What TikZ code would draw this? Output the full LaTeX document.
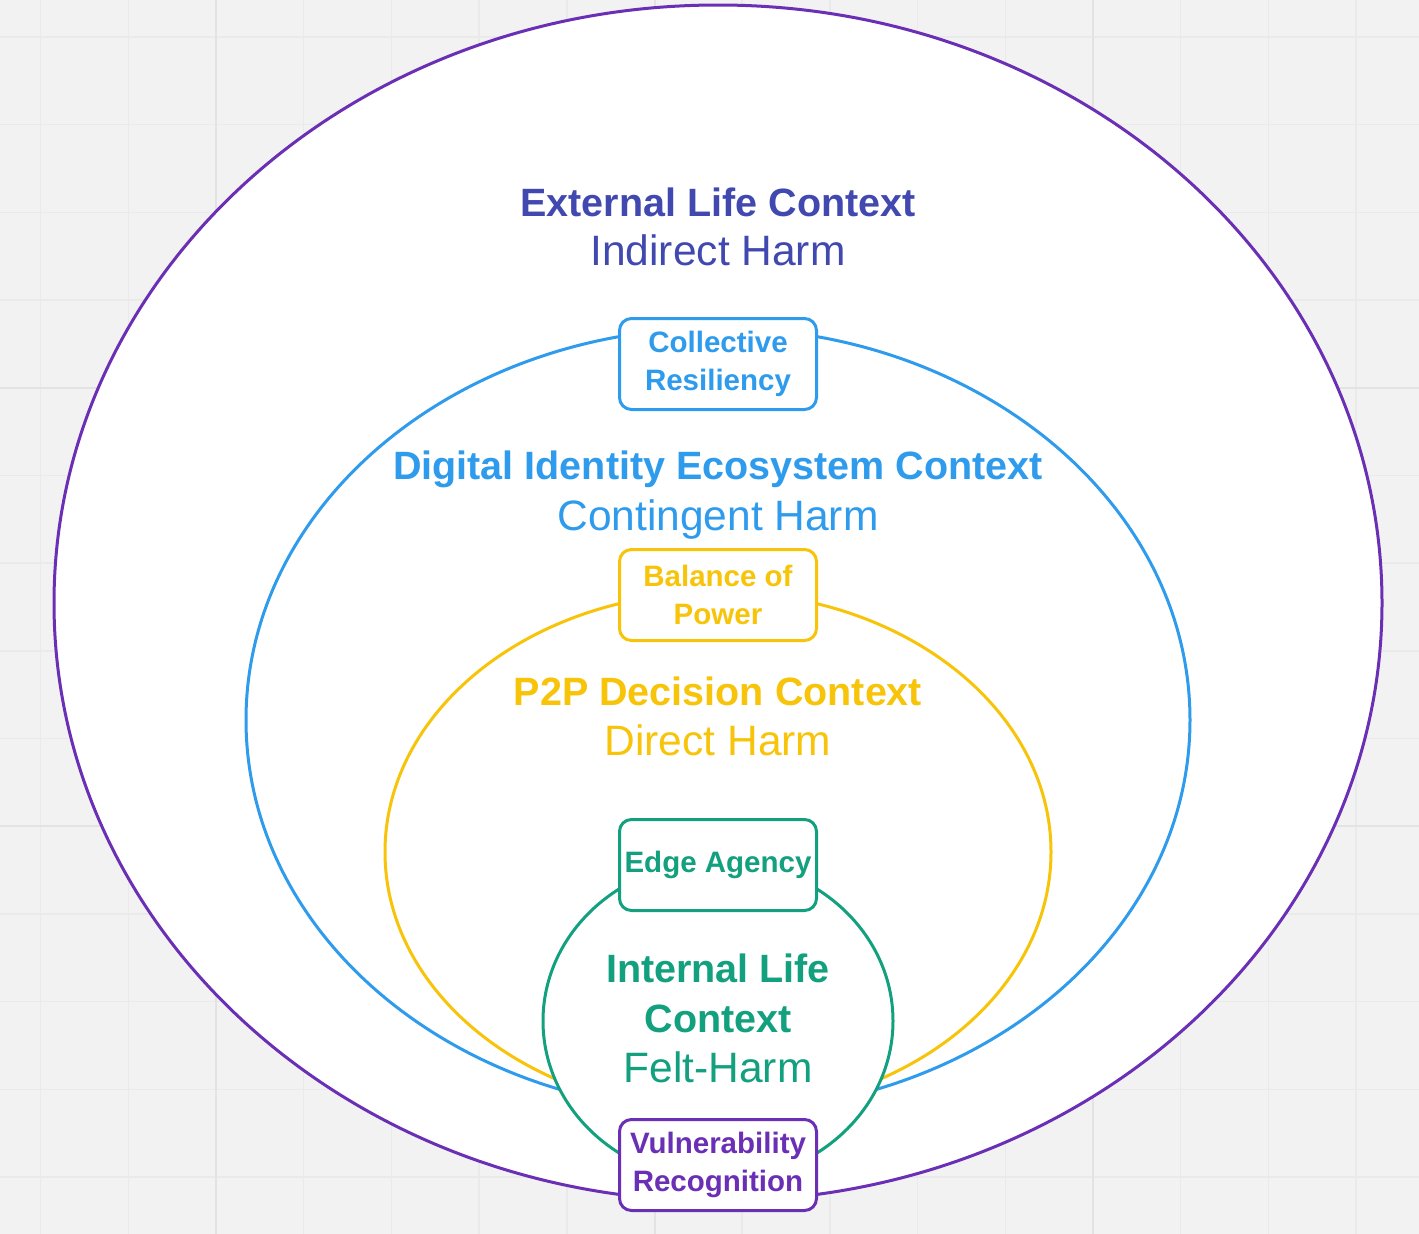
\documentclass[tikz,border=0pt]{standalone}
\usepackage{fontspec}
\setmainfont{Liberation Sans}
\usetikzlibrary{shapes.geometric,positioning}
\definecolor{extpurple}{HTML}{6A2FB4}
\definecolor{extindigo}{HTML}{4148B0}
\definecolor{ecoblue}{HTML}{2F9BEC}
\definecolor{ptpyellow}{HTML}{F7C40A}
\definecolor{intgreen}{HTML}{12A07E}
\definecolor{canvas}{HTML}{F2F2F2}
\definecolor{gridminor}{HTML}{EAEAEA}
\definecolor{gridmajor}{HTML}{E3E3E3}
\tikzset{
  ring/.style={ellipse, draw, line width=3pt, fill=white, inner sep=0pt},
  ctxname/.style={font=\fontsize{39.5}{50}\selectfont\bfseries, anchor=base,
                  align=center},
  harmname/.style={font=\fontsize{42.5}{50}\selectfont, anchor=base},
  tagbox/.style={rectangle, rounded corners=12pt, draw, line width=3pt,
                 fill=white, align=center, inner sep=0pt,
                 minimum width=197pt, minimum height=91pt,
                 font=\fontsize{29.5}{38}\selectfont\bfseries}
}

\begin{document}
\begin{tikzpicture}[x=1pt, y=-1pt]
  \useasboundingbox (0,0) rectangle (1419,1234);
  % canvas grid
  \fill[canvas] (0,0) rectangle (1419,1234);
  \foreach \i in {0,...,15} {
    \draw[gridminor, line width=1.5pt] ({40.6+87.7*\i},0) -- ({40.6+87.7*\i},1234);
    \draw[gridminor, line width=1.5pt] (0,{37+87.7*\i}) -- (1419,{37+87.7*\i});
  }
  \foreach \gx in {216,654.5,1093} \draw[gridmajor, line width=2pt] (\gx,0) -- (\gx,1234);
  \foreach \gy in {387.8,826} \draw[gridmajor, line width=2pt] (0,\gy) -- (1419,\gy);

  % context rings
  \node[ring, draw=extpurple, minimum width=1328pt, minimum height=1196pt] (ext) at (718,603) {};
  \node[ring, draw=ecoblue, minimum width=944pt, minimum height=784pt] (eco) at (718,720) {};
  \node[ring, draw=ptpyellow, minimum width=666pt, minimum height=520pt] (ptp) at (718,852) {};
  \node[ring, draw=intgreen, minimum width=350pt, minimum height=320pt] (int) at (718,1021) {};

  % context labels
  \node[ctxname, text=extindigo] (extname) at (718,216) {External Life Context};
  \node[harmname, text=extindigo] (extharm) at (718,265) {Indirect Harm};
  \node[ctxname, text=ecoblue] (econame) at (718,479) {Digital Identity Ecosystem Context};
  \node[harmname, text=ecoblue] (ecoharm) at (718,530) {Contingent Harm};
  \node[ctxname, text=ptpyellow] (ptpname) at (718,705) {P2P Decision Context};
  \node[harmname, text=ptpyellow] (ptpharm) at (718,755) {Direct Harm};
  \node[ctxname, text=intgreen] (intname) at (718,1032) {Internal Life\\Context};
  \node[harmname, text=intgreen] (intharm) at (718,1082) {Felt-Harm};

  % boundary tags
  \node[tagbox, draw=ecoblue, text=ecoblue] (resil) at (718,364) {Collective\\Resiliency};
  \node[tagbox, draw=ptpyellow, text=ptpyellow] (power) at (718,595) {Balance of\\Power};
  \node[tagbox, draw=intgreen, text=intgreen] (agency) at (718,865) {Edge Agency};
  \node[tagbox, draw=extpurple, text=extpurple] (vuln) at (718,1165) {Vulnerability\\Recognition};
\end{tikzpicture}
\end{document}
